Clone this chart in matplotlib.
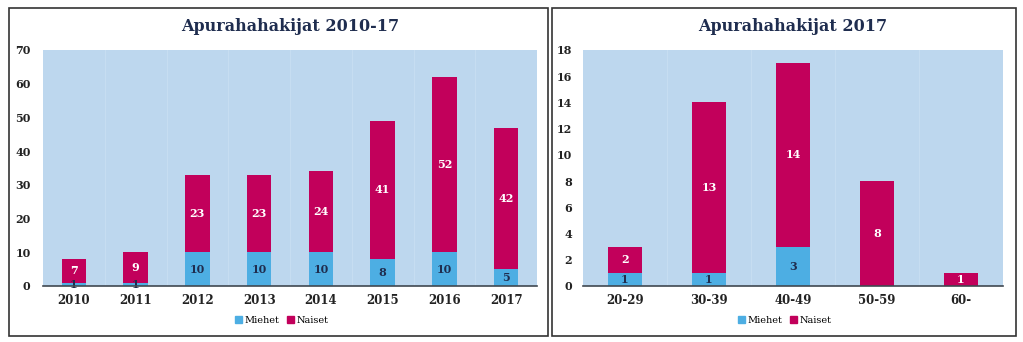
import matplotlib.pyplot as plt
from matplotlib.patches import Rectangle, Patch
import numpy as np

# vuodet 2010-17
years = ['2010', '2011', '2012', '2013', '2014', '2015', '2016', '2017']
men_years = [1, 1, 10, 10, 10, 8, 10, 5]
women_years = [7, 9, 23, 23, 24, 41, 52, 42]

# ikäryhmät 2017
ages = ['20-29', '30-39', '40-49', '50-59', '60-']
men_ages = [1, 1, 3, 0, 0]
women_ages = [2, 13, 14, 8, 1]

BLUE = '#4DAEE3'
RED = '#C2005B'
BG = '#BDD7EE'
NAVY = '#1F2D4F'
FONT = 'DejaVu Serif'


def drawPanel(fig, rect, box, title, cats, men, women, ymax, ystep, ypad):
    # kehys paneelin ympärille
    fig.patches.append(Rectangle((box[0], box[1]), box[2], box[3], transform=fig.transFigure,
                                 fill=False, edgecolor='#333333', linewidth=1.2))
    ax = fig.add_axes(rect)
    ax.set_facecolor(BG)
    x = np.arange(len(cats))
    w = 0.4
    ax.bar(x, men, w, color=BLUE, label='Miehet', zorder=2)
    ax.bar(x, women, w, bottom=men, color=RED, label='Naiset', zorder=2)

    for i in range(len(cats)):
        if men[i] > 0:
            ax.text(x[i], men[i] / 2, str(men[i]), ha='center', va='center', color=NAVY,
                    fontsize=8, fontweight='bold', family=FONT, zorder=3)
        if women[i] > 0:
            ax.text(x[i], men[i] + women[i] / 2, str(women[i]), ha='center', va='center',
                    color='white', fontsize=8, fontweight='bold', family=FONT, zorder=3)

    # heikot pystyviivat kategorioiden väliin
    for b in np.arange(0.5, len(cats) - 1, 1):
        ax.axvline(b, color='#C6DDF1', linewidth=0.8, zorder=1)

    ax.set_xlim(-0.5, len(cats) - 0.5)
    ax.set_ylim(0, ymax)
    ax.set_yticks(np.arange(0, ymax + 1, ystep))
    ax.set_xticks(x)
    ax.set_xticklabels(cats)
    ax.axhline(0, color='#404850', linewidth=1.2, zorder=4, clip_on=False)
    for s in ax.spines.values():
        s.set_visible(False)
    ax.tick_params(length=0, labelsize=8, colors='#222222', pad=6)
    ax.tick_params('x', labelsize=8.5)
    ax.tick_params('y', pad=ypad)
    for lab in ax.get_xticklabels() + ax.get_yticklabels():
        lab.set_family(FONT)
        lab.set_fontweight('bold')

    fig.text(rect[0] + rect[2] / 2, box[1] + box[3] - 0.055, title, ha='center', va='center',
             fontsize=11.5, fontweight='bold', color=NAVY, family=FONT)

    handles = [Patch(color=BLUE, label='Miehet'), Patch(color=RED, label='Naiset')]
    fig.legend(handles=handles, loc='center', bbox_to_anchor=(rect[0] + rect[2] / 2 - 0.008, 0.062),
               ncol=2, frameon=False, prop={'family': FONT, 'size': 7},
               handlelength=0.7, handleheight=0.7, handletextpad=0.3, columnspacing=0.8)
    return ax


fig = plt.figure(figsize=(10.23, 3.42), dpi=100)
W, H = 1023, 342

drawPanel(fig, [43 / W, 56 / H, 494 / W, 236 / H], [9 / W, 6 / H, 539 / W, 328 / H],
          'Apurahahakijat 2010-17', years, men_years, women_years, 70, 10, 9)
drawPanel(fig, [583 / W, 56 / H, 420 / W, 236 / H], [552 / W, 6 / H, 464 / W, 328 / H],
          'Apurahahakijat 2017', ages, men_ages, women_ages, 18, 2, 8)

fig.savefig('out.png', dpi=100)
